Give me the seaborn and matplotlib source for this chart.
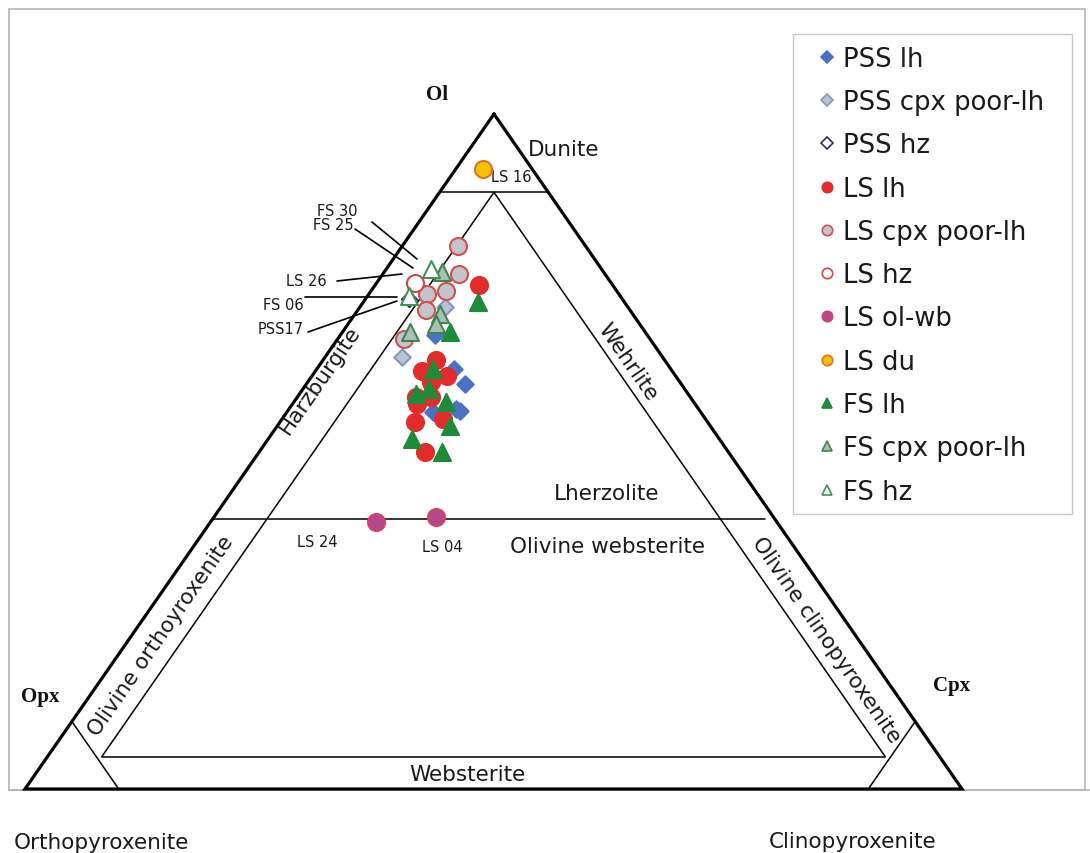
import numpy as np
import pandas as pd
import matplotlib
matplotlib.use("Agg")
import matplotlib.pyplot as plt
import seaborn as sns
from matplotlib.lines import Line2D
from matplotlib.patches import Rectangle

sns.set_theme(style="white")
plt.rcParams["font.family"] = ["DejaVu Sans"]

# ---------------- data (modal %, Opx = 100 - Ol - Cpx) ----------------
pss_lh_ol = [67.2, 62.2, 60.0, 55.8, 56.0, 56.3]
pss_lh_cpx = [10.1, 14.7, 16.9, 15.6, 18.4, 17.8]
pss_cpl_ol = [64.0, 71.4]
pss_cpl_cpx = [8.2, 9.1]
pss_hz_ol = [72.6]
pss_hz_cpx = [4.6]

ls_lh_ol = [74.7, 62.0, 63.5, 61.2, 60.3, 58.1, 58.1, 57.0, 54.3, 54.8, 49.9]
ls_lh_cpx = [11.1, 11.3, 12.1, 14.4, 13.2, 12.6, 14.3, 13.3, 14.4, 17.2, 17.7]
ls_cpl_ol = [80.4, 76.3, 73.8, 73.3, 71.0, 66.6]
ls_cpl_cpx = [6.0, 8.1, 8.0, 6.2, 7.3, 7.1]
ls_hz_ol = [75.0]
ls_hz_cpx = [4.1]
ls_olwb_ol = [39.6, 40.3]
ls_olwb_cpx = [17.6, 23.7]
ls_du_ol = [91.9]
ls_du_cpx = [2.9]

fs_lh_ol = [72.1, 67.7, 62.2, 58.5, 59.3, 57.3, 53.8, 51.9, 49.9]
fs_lh_cpx = [12.3, 11.5, 12.4, 12.5, 13.4, 16.3, 18.4, 15.3, 19.5]
fs_cpl_ol = [76.6, 70.4, 67.7, 68.9]
fs_cpl_cpx = [6.2, 9.1, 7.2, 9.4]
fs_hz_ol = [77.0, 73.0]
fs_hz_cpx = [4.8, 4.4]

labelled_names = ["LS 16", "FS 30", "FS 25", "LS 26", "FS 06", "PSS17", "LS 24", "LS 04"]

series_names = ["PSS lh", "PSS cpx poor-lh", "PSS hz", "LS lh", "LS cpx poor-lh",
                "LS hz", "LS ol-wb", "LS du", "FS lh", "FS cpx poor-lh", "FS hz"]

# ---------------- ternary geometry (pixel frame) ----------------
P_OL = np.array([494.0, 115.0])
P_OPX = np.array([25.0, 790.0])
P_CPX = np.array([962.0, 790.0])


def tern(ol, cpx):
    ol = np.asarray(ol, float) / 100.0
    cpx = np.asarray(cpx, float) / 100.0
    x = P_OPX[0] + ol * (P_OL[0] - P_OPX[0]) + cpx * (P_CPX[0] - P_OPX[0])
    y = P_OPX[1] + ol * (P_OL[1] - P_OPX[1]) + cpx * (P_CPX[1] - P_OPX[1])
    return x, y


fig = plt.figure(figsize=(10.9, 8.54), dpi=100)
ax = fig.add_axes([0, 0, 1, 1])
ax.set_xlim(0, 1090)
ax.set_ylim(854, 0)
ax.axis("off")

# outer grey frame
ax.add_patch(Rectangle((9, 10), 1076, 781, fill=False, edgecolor="#b5b5b5", lw=1.2, zorder=0))
ax.plot([9, 1090], [791, 791], color="#b5b5b5", lw=1.2, zorder=0)

# outer triangle
tri_ol = [100, 0, 0, 100]
tri_cpx = [0, 0, 100, 0]
tx, ty = tern(tri_ol, tri_cpx)
ax.plot(tx, ty, color="black", lw=2.3, solid_joinstyle="miter", zorder=2)

# field boundaries (ol, cpx) pairs
bounds = [
    ([88.4, 88.4], [0, 11.6]),        # dunite
    ([88.4, 4.8], [5.8, 5.8]),        # harzburgite / lherzolite
    ([88.4, 4.8], [5.8, 89.4]),       # lherzolite / wehrlite
    ([40, 40], [0, 59]),              # 40 % Ol
    ([4.8, 4.8], [5.8, 89.4]),        # websterite
    ([0, 10], [10, 0]),               # orthopyroxenite
    ([0, 10], [90, 90]),              # clinopyroxenite
]
for bo, bc in bounds:
    bx, by = tern(bo, bc)
    ax.plot(bx, by, color="black", lw=1.1, zorder=2)

# ---------------- points ----------------
styles = [
    ("PSS lh", pss_lh_ol, pss_lh_cpx, "D", "#4a72c4", "#4a72c4", 70),
    ("PSS cpx poor-lh", pss_cpl_ol, pss_cpl_cpx, "D", "#b9c3d6", "#8496bf", 70),
    ("PSS hz", pss_hz_ol, pss_hz_cpx, "D", "white", "#2e2f6e", 60),
    ("LS cpx poor-lh", ls_cpl_ol, ls_cpl_cpx, "o", "#c4c4cc", "#d25050", 150),
    ("LS hz", ls_hz_ol, ls_hz_cpx, "o", "white", "#d44545", 150),
    ("LS lh", ls_lh_ol, ls_lh_cpx, "o", "#e22b2b", "#e22b2b", 150),
    ("LS ol-wb", ls_olwb_ol, ls_olwb_cpx, "o", "#b4488c", "#dc4068", 150),
    ("LS du", ls_du_ol, ls_du_cpx, "o", "#f7c300", "#e0731f", 150),
    ("FS cpx poor-lh", fs_cpl_ol, fs_cpl_cpx, "^", "#a9c1b3", "#3f8452", 150),
    ("FS hz", fs_hz_ol, fs_hz_cpx, "^", "white", "#3f9455", 150),
    ("FS lh", fs_lh_ol, fs_lh_cpx, "^", "#1f8a3a", "#1f8a3a", 150),
]
for name, o, c, mk, fc, ec, s in styles:
    px, py = tern(o, c)
    df = pd.DataFrame({"x": px, "y": py})
    sns.scatterplot(data=df, x="x", y="y", marker=mk, s=s, color=fc,
                    edgecolor=ec, linewidth=1.5, ax=ax, zorder=4, legend=False)
ax.set_xlim(0, 1090)
ax.set_ylim(854, 0)
ax.set_xlabel("")
ax.set_ylabel("")

# ---------------- labels ----------------
serif = dict(family="Liberation Serif", weight="bold", fontsize=15, color="#111111")
ax.text(437, 95, "Ol", ha="center", va="center", **serif)
ax.text(40, 697, "Opx", ha="center", va="center", **serif)
ax.text(952, 686, "Cpx", ha="center", va="center", **serif)

fld = dict(fontsize=15.5, color="#1a1a1a", ha="center", va="center")
ax.text(564, 150, "Dunite", **fld)
ax.text(607, 494, "Lherzolite", **fld)
ax.text(607, 547, "Olivine websterite", **fld)
ax.text(467, 775, "Websterite", **fld)
ax.text(320, 380, "Harzburgite", rotation=55.2, rotation_mode="anchor", **fld)
ax.text(628, 362, "Wehrlite", rotation=-55.3, rotation_mode="anchor", **fld)
ax.text(161, 636, "Olivine orthoyroxenite", rotation=55.2, rotation_mode="anchor", **fld)
ax.text(826, 640, "Olivine clinopyroxenite", rotation=-55.3, rotation_mode="anchor", **fld)
ax.text(101, 843, "Orthopyroxenite", **fld)
ax.text(853, 842, "Clinopyroxenite", **fld)

sm = dict(fontsize=10.5, color="#1a1a1a", ha="center", va="center")
lab_pos = [(511, 178), (337, 211), (333, 226), (306, 282), (283, 306), (281, 330), (317, 543), (442, 548)]
for t, (lx, ly) in zip(labelled_names, lab_pos):
    ax.text(lx, ly, t, **sm)

leaders = [((372, 223), (417, 260)), ((355, 230), (413, 269)), ((337, 282), (402, 275)),
           ((305, 298), (397, 298)), ((308, 333), (397, 302))]
for (x0, y0), (x1, y1) in leaders:
    ax.plot([x0, x1], [y0, y1], color="black", lw=1.2, zorder=3)

# ---------------- legend ----------------
ax.add_patch(Rectangle((793, 35), 279, 480, fill=True, facecolor="white",
                       edgecolor="#c8c8c8", lw=1.0, zorder=5))
handles = []
for name in series_names:
    st = [s for s in styles if s[0] == name][0]
    _, _, _, mk, fc, ec, s = st
    ms = 7.5 if mk != "D" else 6.5
    handles.append(Line2D([], [], ls="", marker=mk, markersize=ms,
                          markerfacecolor=fc, markeredgecolor=ec, markeredgewidth=1.2,
                          label=name))
leg = ax.legend(handles=handles, loc="upper left",
                bbox_to_anchor=(793 / 1090, 1 - 35 / 854), bbox_transform=fig.transFigure,
                frameon=False, fontsize=18.6, labelspacing=0.67,
                handlelength=1.7, handletextpad=-0.2, borderpad=0.45, borderaxespad=0)
leg.set_zorder(6)
for t in leg.get_texts():
    t.set_color("#1a1a1a")

fig.savefig("out.png", dpi=100)
